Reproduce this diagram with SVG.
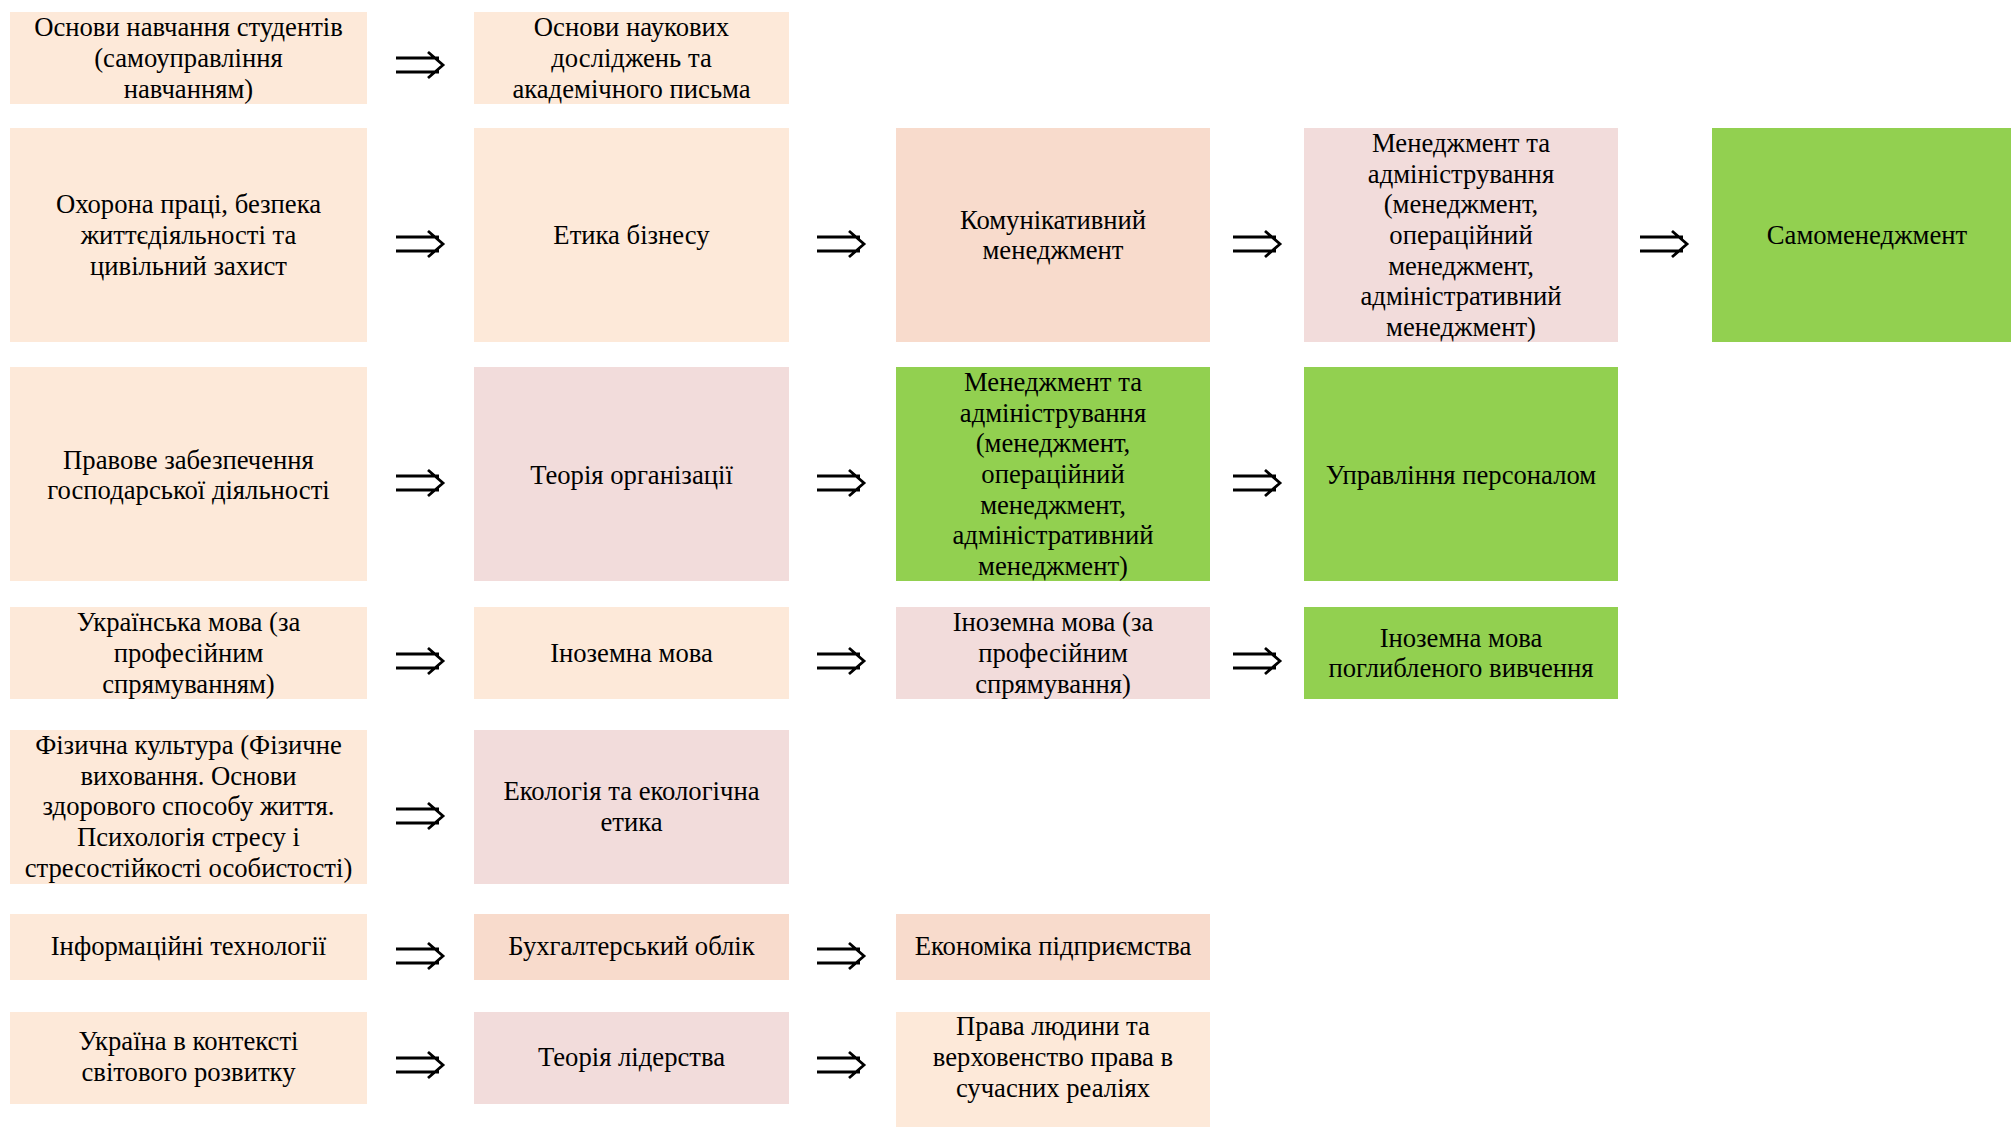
<svg xmlns="http://www.w3.org/2000/svg" xmlns:xlink="http://www.w3.org/1999/xlink" width="2011" height="1127" viewBox="0 0 2011 1127">
<style>
.peach{fill:#FDE9D9}
.salmon{fill:#F8DBCC}
.pink{fill:#F2DCDB}
.green{fill:#92D050}
text{font-family:"Liberation Serif","Times New Roman",serif;font-size:26.67px;fill:#000;text-anchor:middle}
.arr{fill:none;stroke:#000;stroke-width:2.8}
</style>
<defs>
<path id="dbl" d="M0,-7 H43 M0,7 H43 M32,-13 L47,0 L32,13"/>
</defs>
<rect width="2011" height="1127" fill="#fff"/>
<g id="connectors" class="arr">
<use xlink:href="#dbl" x="396" y="65"/>
<use xlink:href="#dbl" x="396" y="244"/>
<use xlink:href="#dbl" x="817" y="244"/>
<use xlink:href="#dbl" x="1233" y="244"/>
<use xlink:href="#dbl" x="1640" y="244"/>
<use xlink:href="#dbl" x="396" y="483"/>
<use xlink:href="#dbl" x="817" y="483"/>
<use xlink:href="#dbl" x="1233" y="483"/>
<use xlink:href="#dbl" x="396" y="661"/>
<use xlink:href="#dbl" x="817" y="661"/>
<use xlink:href="#dbl" x="1233" y="661"/>
<use xlink:href="#dbl" x="396" y="816"/>
<use xlink:href="#dbl" x="396" y="956"/>
<use xlink:href="#dbl" x="817" y="956"/>
<use xlink:href="#dbl" x="396" y="1065"/>
<use xlink:href="#dbl" x="817" y="1065"/>
</g>
<g id="r1c1"><rect class="peach" x="10" y="12" width="357" height="92"/>
<text x="188.5" y="36.3">Основи навчання студентів</text><text x="188.5" y="67">(самоуправління</text><text x="188.5" y="97.7">навчанням)</text></g>
<g id="r1c2"><rect class="peach" x="474" y="12" width="315" height="92"/>
<text x="631.5" y="36.3">Основи наукових</text><text x="631.5" y="67">досліджень та</text><text x="631.5" y="97.7">академічного письма</text></g>

<g id="r2c1"><rect class="peach" x="10" y="128" width="357" height="214"/>
<text x="188.5" y="213.3">Охорона праці, безпека</text><text x="188.5" y="244">життєдіяльності та</text><text x="188.5" y="274.7">цивільний захист</text></g>
<g id="r2c2"><rect class="peach" x="474" y="128" width="315" height="214"/>
<text x="631.5" y="244">Етика бізнесу</text></g>
<g id="r2c3"><rect class="salmon" x="896" y="128" width="314" height="214"/>
<text x="1053" y="228.7">Комунікативний</text><text x="1053" y="259.3">менеджмент</text></g>
<g id="r2c4"><rect class="pink" x="1304" y="128" width="314" height="214"/>
<text x="1461" y="152">Менеджмент та</text><text x="1461" y="182.7">адміністрування</text><text x="1461" y="213.3">(менеджмент,</text><text x="1461" y="244">операційний</text><text x="1461" y="274.7">менеджмент,</text><text x="1461" y="305.3">адміністративний</text><text x="1461" y="336">менеджмент)</text></g>
<g id="r2c5"><rect class="green" x="1712" y="128" width="299" height="214"/>
<text x="1867" y="244">Самоменеджмент</text></g>

<g id="r3c1"><rect class="peach" x="10" y="367" width="357" height="214"/>
<text x="188.5" y="468.7">Правове забезпечення</text><text x="188.5" y="499.3">господарської діяльності</text></g>
<g id="r3c2"><rect class="pink" x="474" y="367" width="315" height="214"/>
<text x="631.5" y="484">Теорія організації</text></g>
<g id="r3c3"><rect class="green" x="896" y="367" width="314" height="214"/>
<text x="1053" y="391">Менеджмент та</text><text x="1053" y="421.7">адміністрування</text><text x="1053" y="452.3">(менеджмент,</text><text x="1053" y="483">операційний</text><text x="1053" y="513.7">менеджмент,</text><text x="1053" y="544.3">адміністративний</text><text x="1053" y="575">менеджмент)</text></g>
<g id="r3c4"><rect class="green" x="1304" y="367" width="314" height="214"/>
<text x="1461" y="484">Управління персоналом</text></g>

<g id="r4c1"><rect class="peach" x="10" y="607" width="357" height="92"/>
<text x="188.5" y="631.3">Українська мова (за</text><text x="188.5" y="662">професійним</text><text x="188.5" y="692.7">спрямуванням)</text></g>
<g id="r4c2"><rect class="peach" x="474" y="607" width="315" height="92"/>
<text x="631.5" y="662">Іноземна мова</text></g>
<g id="r4c3"><rect class="pink" x="896" y="607" width="314" height="92"/>
<text x="1053" y="631.3">Іноземна мова (за</text><text x="1053" y="662">професійним</text><text x="1053" y="692.7">спрямування)</text></g>
<g id="r4c4"><rect class="green" x="1304" y="607" width="314" height="92"/>
<text x="1461" y="646.7">Іноземна мова</text><text x="1461" y="677.3">поглибленого вивчення</text></g>

<g id="r5c1"><rect class="peach" x="10" y="730" width="357" height="154"/>
<text x="188.5" y="754">Фізична культура (Фізичне</text><text x="188.5" y="784.7">виховання. Основи</text><text x="188.5" y="815.3">здорового способу життя.</text><text x="188.5" y="846">Психологія стресу і</text><text x="188.5" y="876.7">стресостійкості особистості)</text></g>
<g id="r5c2"><rect class="pink" x="474" y="730" width="315" height="154"/>
<text x="631.5" y="800">Екологія та екологічна</text><text x="631.5" y="830.7">етика</text></g>

<g id="r6c1"><rect class="peach" x="10" y="914" width="357" height="66"/>
<text x="188.5" y="955">Інформаційні технології</text></g>
<g id="r6c2"><rect class="salmon" x="474" y="914" width="315" height="66"/>
<text x="631.5" y="955">Бухгалтерський облік</text></g>
<g id="r6c3"><rect class="salmon" x="896" y="914" width="314" height="66"/>
<text x="1053" y="955">Економіка підприємства</text></g>

<g id="r7c1"><rect class="peach" x="10" y="1012" width="357" height="92"/>
<text x="188.5" y="1050">Україна в контексті</text><text x="188.5" y="1080.7">світового розвитку</text></g>
<g id="r7c2"><rect class="pink" x="474" y="1012" width="315" height="92"/>
<text x="631.5" y="1065.5">Теорія лідерства</text></g>
<g id="r7c3"><rect class="peach" x="896" y="1012" width="314" height="115"/>
<text x="1053" y="1035.3">Права людини та</text><text x="1053" y="1066">верховенство права в</text><text x="1053" y="1096.7">сучасних реаліях</text></g>
</svg>
